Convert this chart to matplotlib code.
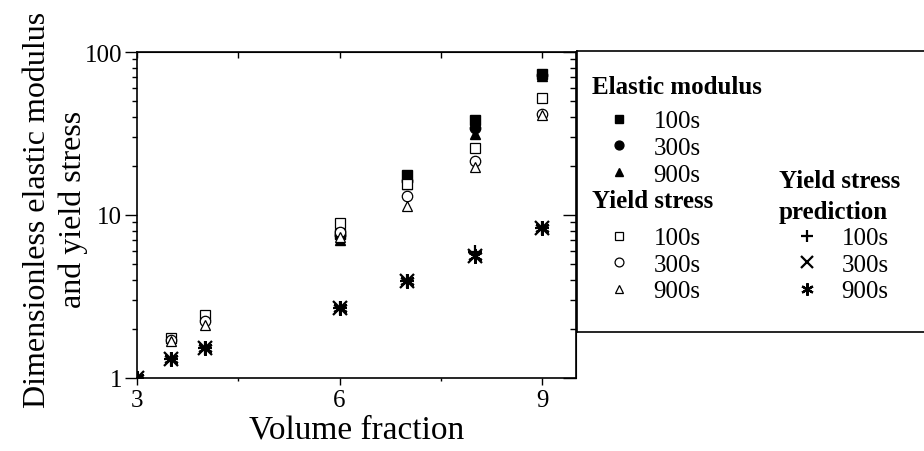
"""Dimensionless elastic modulus and yield stress vs volume fraction."""
import numpy as np
import matplotlib
matplotlib.use("Agg")
import matplotlib.pyplot as plt
from matplotlib.ticker import LogLocator, NullFormatter, FixedLocator

plt.rcParams["font.family"] = ["Liberation Serif", "DejaVu Serif"]

# ---- data ----
phi_E = [6, 7, 8, 9]
E_100 = [7.7, 17.5, 38.3, 73.0]
E_300 = [7.5, 16.2, 34.0, 72.0]
E_900 = [7.0, 15.6, 31.4, 71.5]

phi_Y = [3.5, 4, 6, 7, 8, 9]
Y_100 = [1.76, 2.43, 8.9, 15.6, 25.8, 52.2]
Y_300 = [1.72, 2.25, 7.85, 13.1, 21.5, 41.6]
Y_900 = [1.69, 2.11, 7.3, 11.4, 19.6, 41.0]

phi_P = [3, 3.5, 4, 6, 7, 8, 9]
P_100 = [1.0, 1.31, 1.52, 2.68, 3.95, 5.9, 8.28]
P_300 = [1.0, 1.31, 1.52, 2.68, 3.95, 5.6, 8.28]
P_900 = [1.0, 1.31, 1.52, 2.68, 3.95, 5.6, 8.28]

times = ["100s", "300s", "900s"]

W, H = 924, 452
fig = plt.figure(figsize=(W / 100, H / 100), dpi=100)
ax = fig.add_axes([137 / W, 1 - 379 / H, 439 / W, 326 / H])

ms = 7.5
kw_f = dict(ls="none", color="black", ms=ms)
kw_o = dict(ls="none", color="black", mfc="white", mew=0.9, ms=ms)
kw_p = dict(ls="none", color="black", mew=1.6, ms=10.5)

hE1, = ax.plot(phi_E, E_100, marker="s", **kw_f)
hE2, = ax.plot(phi_E, E_300, marker="o", **kw_f)
hE3, = ax.plot(phi_E, E_900, marker="^", **kw_f)
hY1, = ax.plot(phi_Y, Y_100, marker="s", **kw_o)
hY2, = ax.plot(phi_Y, Y_300, marker="o", **kw_o)
hY3, = ax.plot(phi_Y, Y_900, marker="^", **kw_o)
hP1, = ax.plot(phi_P, P_100, marker="+", **kw_p)
hP2, = ax.plot(phi_P, P_300, marker="x", **kw_p)
hP3, = ax.plot(phi_P, P_900, marker=(6, 2, 0), **kw_p)

ax.set_yscale("log")
ax.set_xlim(3, 9.5)
ax.set_ylim(1, 100)
ax.set_xticks([3, 6, 9])
ax.set_xticks([4.5, 7.5], minor=True)
ax.set_yticks([1, 10, 100])
ax.set_yticklabels(["1", "10", "100"])
ax.yaxis.set_minor_locator(LogLocator(base=10, subs=np.arange(2, 10)))
ax.yaxis.set_minor_formatter(NullFormatter())
ax.tick_params(axis="both", labelsize=18, colors="black")
ax.tick_params(axis="y", which="major", direction="out", length=8.6, width=1, pad=2)
ax.tick_params(axis="y", which="minor", direction="out", length=3.5, width=1)
ax.tick_params(axis="x", which="major", direction="out", length=5, width=1, pad=3)
ax.tick_params(axis="x", which="minor", direction="out", length=2, width=1)
for s in ax.spines.values():
    s.set_linewidth(1.2)

# inward ticks on top and right
top = ax.secondary_xaxis("top")
top.set_xticks([3, 6, 9])
top.xaxis.set_minor_locator(FixedLocator([4.5, 7.5]))
top.tick_params(which="both", direction="in", length=4, width=1, labeltop=False)
right = ax.secondary_yaxis("right")
right.set_yticks([1, 10, 100])
right.yaxis.set_minor_locator(LogLocator(base=10, subs=np.arange(2, 10)))
right.yaxis.set_minor_formatter(NullFormatter())
right.tick_params(which="major", direction="in", length=9.4, width=1, labelright=False)
right.tick_params(which="minor", direction="in", length=4.3, width=1, labelright=False)

ax.set_xlabel("Volume fraction", fontsize=24, labelpad=2)
ax.set_ylabel("Dimensionless elastic modulus\nand yield stress", fontsize=23,
              linespacing=1.3)
ax.yaxis.set_label_coords(-0.111, 0.52)

# legend panel
lax = fig.add_axes([577 / W, 1 - 333 / H, 0.5, 281 / H])
lax.set_xticks([])
lax.set_yticks([])
for s in lax.spines.values():
    s.set_linewidth(1.2)

fs = 18
hdr = dict(fontsize=fs, fontweight="bold", ha="left", va="center")
fig.text(592 / W, 1 - 87 / H, "Elastic modulus", **hdr)
fig.text(592 / W, 1 - 201 / H, "Yield stress", **hdr)
fig.text(779 / W, 1 - 197 / H, "Yield stress\nprediction", linespacing=1.4, **hdr)

lkw = dict(frameon=False, fontsize=fs, handlelength=2.16, handletextpad=0.3,
           labelspacing=0.16, borderpad=0, borderaxespad=0, markerscale=0.85,
           loc="upper left", bbox_transform=fig.transFigure)
leg1 = lax.legend([hE1, hE2, hE3], times, bbox_to_anchor=(592 / W, 1 - 111 / H), **lkw)
lax.add_artist(leg1)
leg2 = lax.legend([hY1, hY2, hY3], times, bbox_to_anchor=(592 / W, 1 - 228 / H), **lkw)
lax.add_artist(leg2)
leg3 = lax.legend([hP1, hP2, hP3], times, bbox_to_anchor=(780 / W, 1 - 228 / H), **lkw)

fig.savefig("out.png", dpi=100)
